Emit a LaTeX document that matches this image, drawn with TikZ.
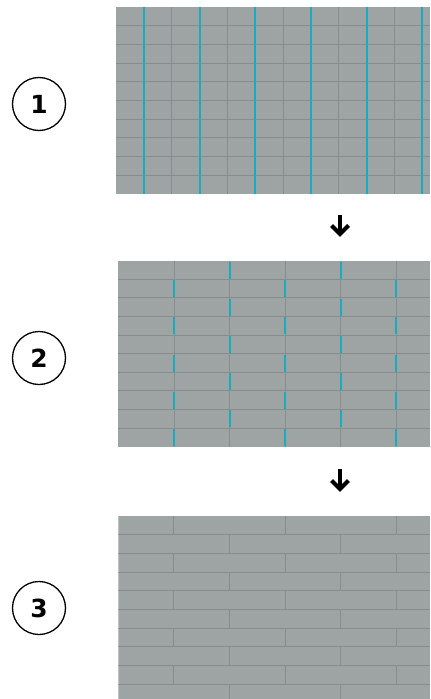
\documentclass[tikz,border=0pt]{standalone}
\usepackage{fontspec}
\newfontfamily\numfont{DejaVu Sans}
\definecolor{tile}{RGB}{158,163,163}
\definecolor{joint}{RGB}{136,141,141}
\definecolor{spacer}{RGB}{24,172,190}
\tikzset{
  numcircle/.style={circle,draw=black,line width=1.3bp,minimum size=53bp,inner sep=0pt,
    font=\numfont\bfseries\fontsize{25}{25}\selectfont},
  jointline/.style={joint,line width=1bp},
  spacerline/.style={spacer,line width=2bp},
  arrowstroke/.style={black,line width=4bp,miter limit=10}
}
\begin{document}
\begin{tikzpicture}[x=1bp,y=-1bp]
\useasboundingbox (0,0) rectangle (430,699);
\fill[white] (0,0) rectangle (430,699);

% ---------- panel 1 ----------
\fill[tile] (116,7) rectangle (430,194);
\foreach \i in {1,...,9}
  \draw[jointline] (116,{7+18.7*\i}) -- (430,{7+18.7*\i});
\foreach \k in {2,4,...,10}
  \draw[jointline] ({116+27.85*\k},7) -- ({116+27.85*\k},194);
\foreach \k in {1,3,...,11}
  \draw[spacerline] ({116+27.85*\k},7) -- ({116+27.85*\k},194);

% ---------- panel 2 ----------
\fill[tile] (118.3,260.7) rectangle (430,446.7);
\foreach \i in {1,...,9}
  \draw[jointline] (118.3,{260.7+18.6*\i}) -- (430,{260.7+18.6*\i});
\foreach \k in {1,...,5}
  \draw[joint,line width=0.8bp] ({118.3+55.6*\k},260.7) -- ({118.3+55.6*\k},446.7);
\foreach \i in {0,2,...,8}
  \foreach \k in {2,4}
    \draw[spacerline] ({118.3+55.6*\k},{260.7+18.6*\i+0.8}) -- ({118.3+55.6*\k},{260.7+18.6*(\i+1)-0.8});
\foreach \i in {1,3,...,9}
  \foreach \k in {1,3,5}
    \draw[spacerline] ({118.3+55.6*\k},{260.7+18.6*\i+0.8}) -- ({118.3+55.6*\k},{260.7+18.6*(\i+1)-0.8});

% ---------- panel 3 ----------
\begin{scope}
\clip (118.3,516) rectangle (430,699);
\fill[tile] (118.3,516) rectangle (430,699);
\foreach \i in {1,...,9}
  \draw[jointline] (118.3,{516+18.7*\i}) -- (430,{516+18.7*\i});
\foreach \i in {0,2,...,8}
  \foreach \k in {1,3,5}
    \draw[jointline] ({118.3+55.6*\k},{516+18.7*\i}) -- ({118.3+55.6*\k},{516+18.7*(\i+1)});
\foreach \i in {1,3,...,9}
  \foreach \k in {2,4}
    \draw[jointline] ({118.3+55.6*\k},{516+18.7*\i}) -- ({118.3+55.6*\k},{516+18.7*(\i+1)});
\end{scope}

% ---------- numbers ----------
\node[numcircle] (n1) at (39,104) {1};
\node[numcircle] (n2) at (39,358) {2};
\node[numcircle] (n3) at (39,608) {3};

% ---------- arrows ----------
\coordinate (a1s) at (340,215);
\coordinate (a1e) at (340,234);
\coordinate (a2s) at (340,469);
\coordinate (a2e) at (340,489);
\draw[arrowstroke] (a1s) -- (a1e);
\draw[arrowstroke] (a1e) ++(-8.5,-8.5) -- (a1e) -- ++(8.5,-8.5);
\draw[arrowstroke] (a2s) -- (a2e);
\draw[arrowstroke] (a2e) ++(-8.5,-8.5) -- (a2e) -- ++(8.5,-8.5);
\end{tikzpicture}
\end{document}
